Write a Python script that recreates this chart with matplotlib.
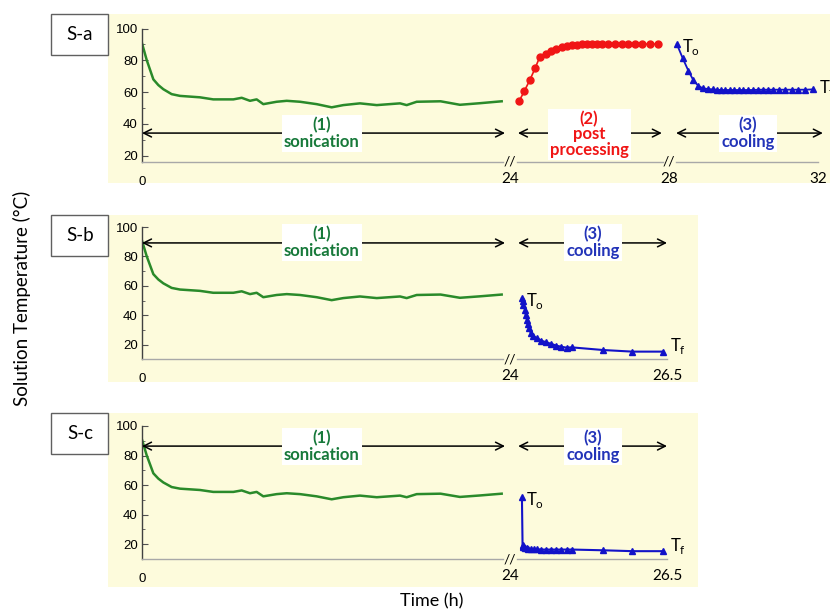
import numpy as np
import matplotlib.pyplot as plt
from matplotlib.patches import Rectangle

plt.rcParams['font.family'] = ['Lato', 'DejaVu Sans']

# --- DADOS ---
# (1) sonication, igual nos tres paineis
son_t = [0.0, 0.31, 0.75, 1.08, 1.41, 1.96, 2.51, 3.83, 4.71, 6.04, 6.59, 7.14,
         7.58, 8.02, 8.90, 9.57, 10.45, 11.55, 12.54, 13.31, 14.41, 15.52, 17.06,
         17.50, 18.16, 19.74, 21.02, 22.35, 23.78]
son_T = [90.7, 80.2, 68.0, 64.4, 61.8, 58.7, 57.6, 56.7, 55.4, 55.4, 56.4, 54.5,
         55.4, 52.4, 53.9, 54.5, 53.9, 52.4, 50.4, 51.8, 52.9, 51.8, 52.9,
         51.8, 53.9, 54.2, 52.0, 53.0, 54.2]

# (2) post processing, painel S-a
post_t = [24.23, 24.36, 24.50, 24.63, 24.75, 24.90, 25.03, 25.16, 25.30, 25.43,
          25.55, 25.68, 25.80, 25.93, 26.06, 26.18, 26.31, 26.47, 26.64, 26.81,
          26.98, 27.14, 27.31, 27.52, 27.73]
post_T = [54.3, 60.6, 67.6, 74.9, 82.2, 83.7, 86.0, 87.1, 88.2, 89.2,
          89.6, 89.8, 90.0, 90.4, 90.5, 90.5, 90.5, 90.3, 90.2, 90.2,
          90.2, 90.2, 90.2, 90.2, 90.2]

# (3) cooling
cool_a_t = [28.21, 28.37, 28.52, 28.65, 28.79, 28.92, 29.06, 29.17, 29.28, 29.40,
            29.51, 29.64, 29.75, 29.87, 29.99, 30.13, 30.26, 30.40, 30.53, 30.67,
            30.80, 30.96, 31.11, 31.29, 31.47, 31.65, 31.87]
cool_a_T = [90.2, 81.2, 73.4, 67.6, 63.8, 62.3, 61.9, 61.7, 61.5, 61.3,
            61.3, 61.3, 61.3, 61.3, 61.3, 61.3, 61.3, 61.5, 61.5, 61.5,
            61.5, 61.5, 61.5, 61.5, 61.5, 61.5, 61.7]

cool_b_t = [24.19, 24.20, 24.21, 24.24, 24.25, 24.27, 24.28, 24.30, 24.33, 24.37,
            24.43, 24.50, 24.58, 24.66, 24.74, 24.82, 24.90, 24.98, 25.48, 25.95, 26.43]
cool_b_T = [51.7, 50.0, 47.1, 43.7, 40.3, 37.0, 34.2, 31.3, 28.3, 26.1,
            24.5, 22.9, 21.8, 20.7, 19.5, 18.8, 18.2, 18.4, 16.6, 15.5, 15.5]

cool_c_t = [24.19, 24.20, 24.205, 24.21, 24.22, 24.24, 24.27, 24.29, 24.33, 24.38,
            24.43, 24.50, 24.58, 24.66, 24.74, 24.82, 24.90, 24.98, 25.48, 25.95, 26.43]
cool_c_T = [51.7, 19.3, 18.8, 18.2, 17.8, 17.5, 17.3, 17.1, 16.8, 16.8,
            16.6, 16.4, 16.4, 16.4, 16.4, 16.4, 16.4, 16.4, 15.9, 15.3, 15.3]

paineis = ['S-a', 'S-b', 'S-c']
y_ticks = [20, 40, 60, 80, 100]

# --- CORES ---
AMARELO = '#fdfbdc'
VERDE_L = '#2a8a2a'
VERDE_T = '#17793a'
VERMELHO = '#f01515'
AZUL_L = '#1212c8'
AZUL_T = '#2233b8'

W, H = 830, 613
fig = plt.figure(figsize=(W / 100, H / 100), dpi=100)


def eixo(x0, y0, x1, y1):
    # posicao em pixels (origem no topo)
    return fig.add_axes([x0 / W, 1 - y1 / H, (x1 - x0) / W, (y1 - y0) / H])


def caixa(x0, y0, x1, y1, **kw):
    fig.patches.append(Rectangle((x0 / W, 1 - y1 / H), (x1 - x0) / W, (y1 - y0) / H,
                                 transform=fig.transFigure, zorder=-1, **kw))


def segmento(x0, x1, y0, y1, xlim, ylim, bounds, primeiro=False):
    ax = eixo(x0, y0, x1, y1)
    ax.set_xlim(xlim)
    ax.set_ylim(ylim)
    ax.patch.set_alpha(0)
    ax.spines['top'].set_visible(False)
    ax.spines['right'].set_visible(False)
    ax.spines['bottom'].set_color('#a8a8a8')
    ax.spines['bottom'].set_linewidth(1.0)
    ax.spines['bottom'].set_bounds(*bounds)
    if primeiro:
        ax.spines['left'].set_color('#404040')
        ax.spines['left'].set_linewidth(1.0)
        ax.set_yticks(y_ticks, [str(v) for v in y_ticks],
                      fontfamily='Liberation Sans', fontsize=9.5)
        ax.set_yticks([30, 50, 70, 90], minor=True)
        ax.tick_params(axis='y', which='major', direction='in', length=4,
                       color='#505050', pad=3)
        ax.tick_params(axis='y', which='minor', direction='in', length=2.5,
                       color='#505050')
        ax.set_xticks([0], ['0'], fontfamily='Liberation Sans', fontsize=9.5)
        ax.tick_params(axis='x', length=0, pad=10)
    else:
        ax.spines['left'].set_visible(False)
        ax.set_yticks([])
        ax.text(xlim[0], ylim[0], '//', ha='center', va='center', fontsize=10,
                clip_on=False)
        ax.tick_params(axis='x', length=0, pad=7)
    return ax


def seta(ax, t0, t1, y):
    ax.annotate('', xy=(t1, y), xytext=(t0, y), annotation_clip=False,
                arrowprops=dict(arrowstyle='<->', color='black', lw=1.1,
                                shrinkA=0, shrinkB=0, mutation_scale=14))


def rotulo(ax, t, y, txt, cor, ls=1.05):
    ax.text(t, y, txt, color=cor, fontsize=12, fontweight='bold', ha='center',
            va='center', linespacing=ls, zorder=5, clip_on=False,
            bbox=dict(facecolor='white', edgecolor='none', pad=1.5))


def marca_T(ax, t, v, txt, dx, dy):
    ax.annotate(txt, xy=(t, v), xytext=(dx, dy), textcoords='offset points',
                ha='left', va='center', fontsize=12, annotation_clip=False)


def sonicacao(ax, y_seta):
    ax.plot(son_t, son_T, '-', color=VERDE_L, lw=1.8)
    seta(ax, 0, 24, y_seta)
    rotulo(ax, 11.9, y_seta, '(1)\nsonication', VERDE_T)


# --- FUNDOS E CAIXAS ---
fundos = [(108, 14, 830, 183), (108, 215, 698, 382), (108, 413, 698, 587)]
for (x0, y0, x1, y1), nome in zip(fundos, paineis):
    caixa(x0, y0, x1, y1, facecolor=AMARELO, edgecolor='none')
    caixa(51, y0, 108, y0 + 41, facecolor='white', edgecolor='#606060', lw=1)
    fig.text(80 / W, 1 - (y0 + 20.5) / H, nome, fontsize=13.5, ha='center', va='center')

# --- PAINEL S-a ---
ylim_a = (16, 100)
a1 = segmento(142, 505, 28.5, 162, (0, 24), ylim_a, (0, 23.9), primeiro=True)
a2 = segmento(510, 669, 28.5, 162, (24, 28), ylim_a, (24.18, 27.85))
a3 = segmento(669, 818, 28.5, 162, (28, 32), ylim_a, (28.18, 32))
a2.set_xticks([24], ['24'], fontsize=11)
a3.set_xticks([28, 32], ['28', '32'], fontsize=11)

sonicacao(a1, 34.2)
a2.plot(post_t, post_T, 'o-', color=VERMELHO, ms=5, lw=1.2)
seta(a2, 24.2, 27.82, 34.2)
rotulo(a2, 25.99, 33.6, '(2)\npost\nprocessing', VERMELHO, ls=0.95)
a3.plot(cool_a_t, cool_a_T, '^-', color=AZUL_L, ms=5, lw=1.3)
seta(a3, 28.19, 32.13, 34.2)
rotulo(a3, 30.12, 34.2, '(3)\ncooling', AZUL_T)
marca_T(a3, cool_a_t[0], cool_a_T[0], 'T$_\\mathregular{o}$', 4, -2)
# como na figura original, o T_f fica cortado na borda direita
marca_T(a3, cool_a_t[-1], cool_a_T[-1], 'T$_\\mathregular{f}$', 4, 1)

# --- PAINEIS S-b e S-c ---
config = [(227, 359, (10.5, 100), 89.2, cool_b_t, cool_b_T),
          (426, 559, (10, 100), 86.4, cool_c_t, cool_c_T)]
for y0, y1, ylim, y_seta, ct, cT in config:
    b1 = segmento(142, 505, y0, y1, (0, 24), ylim, (0, 23.9), primeiro=True)
    b2 = segmento(510, 667, y0, y1, (24, 26.5), ylim, (24.11, 26.5))
    b2.set_xticks([24, 26.5], ['24', '26.5'], fontsize=11)
    sonicacao(b1, y_seta)
    b2.plot(ct, cT, '^-', color=AZUL_L, ms=5, lw=1.5)
    seta(b2, 24.13, 26.5, y_seta)
    rotulo(b2, 25.32, y_seta, '(3)\ncooling', AZUL_T)
    marca_T(b2, ct[0], cT[0], 'T$_\\mathregular{o}$', 3, -2)
    marca_T(b2, ct[-1], cT[-1], 'T$_\\mathregular{f}$', 5, 4)

# --- EIXOS GERAIS ---
fig.text(22 / W, 1 - 298 / H, 'Solution Temperature (°C)', rotation=90,
         fontsize=13.5, ha='center', va='center')
fig.text(432 / W, 1 - 601 / H, 'Time (h)', fontsize=13, ha='center', va='center')

fig.savefig('out.png', dpi=100)
